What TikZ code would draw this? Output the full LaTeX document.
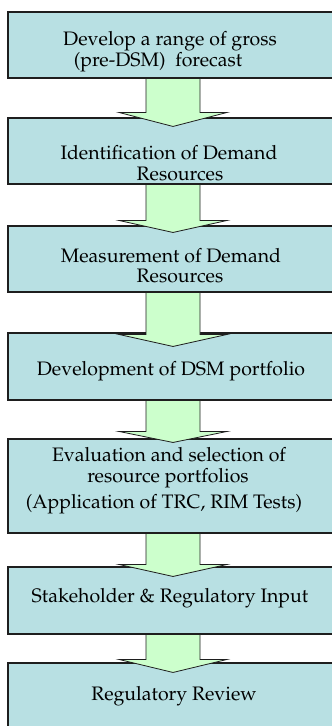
\documentclass[tikz,border=0pt]{standalone}
\usepackage[T1]{fontenc}
\usepackage{mathpazo}
\usetikzlibrary{calc}
\definecolor{boxfill}{RGB}{184,224,227}
\definecolor{arrowfill}{RGB}{204,255,204}
\definecolor{edge}{RGB}{30,30,30}
\tikzset{
  stepbox/.style={draw=edge, line width=1.1pt, fill=boxfill, rectangle, minimum width=330pt, inner sep=0pt},
  steptext/.style={anchor=base, inner sep=0pt, font=\fontsize{19.5}{21}\selectfont},
  bigarrow/.style={draw=edge, line width=0.8pt, fill=arrowfill, line join=miter}
}
% #1 from node, #2 to node, #3 overlap of tip into the lower box, #4 head length
\newcommand\flowarrow[4]{%
  \draw[bigarrow] let \p1=(#1.south), \p2=(#2.north) in
    (\x1-27pt,\y1) -- (\x1+27pt,\y1) -- (\x1+27pt,\y2-#3+#4) -- (\x1+54pt,\y2-#3+#4)
    -- (\x1,\y2-#3) -- (\x1-54pt,\y2-#3+#4) -- (\x1-27pt,\y2-#3+#4) -- cycle;}
\begin{document}
\begin{tikzpicture}[x=1pt,y=-1pt]
\useasboundingbox (0,0) rectangle (332,726);
\clip (0,0) rectangle (332,726);
\fill[white] (0,0) rectangle (332,726);
% boxes
\node[stepbox, minimum height=66pt] (b1) at (173,45) {};
\node[stepbox, minimum height=66pt] (b2) at (173,151) {};
\node[stepbox, minimum height=66pt] (b3) at (173,259) {};
\node[stepbox, minimum height=67pt] (b4) at (173,366.5) {};
\node[stepbox, minimum height=94pt] (b5) at (173,486) {};
\node[stepbox, minimum height=67pt] (b6) at (173,600.5) {};
\node[stepbox, minimum height=67pt] (b7) at (173,696.5) {};
% arrows
\flowarrow{b1}{b2}{9pt}{14pt}
\flowarrow{b2}{b3}{7pt}{12pt}
\flowarrow{b3}{b4}{14pt}{12pt}
\flowarrow{b4}{b5}{4pt}{11pt}
\flowarrow{b5}{b6}{10pt}{12pt}
\flowarrow{b6}{b7}{10pt}{13pt}
% texts
\node[steptext] (t1a) at (170,45.7) {Develop a range of gross};
\node[steptext] (t1b) at (158,66) {(pre-DSM)\ \ forecast};
\node[steptext] (t2a) at (169,159) {Identification of Demand};
\node[steptext] (t2b) at (180,180) {Resources};
\node[steptext] (t3a) at (171,262) {Measurement of Demand};
\node[steptext] (t3b) at (180,282) {Resources};
\node[steptext] (t4a) at (171,375) {Development of DSM portfolio};
\node[steptext] (t5a) at (169,461) {Evaluation and selection of};
\node[steptext] (t5b) at (168,482) {resource portfolios};
\node[steptext] (t5c) at (164,508) {(Application of TRC, RIM Tests)};
\node[steptext] (t6a) at (170,602) {Stakeholder \& Regulatory Input};
\node[steptext] (t7a) at (174,700.5) {Regulatory Review};
\end{tikzpicture}
\end{document}
